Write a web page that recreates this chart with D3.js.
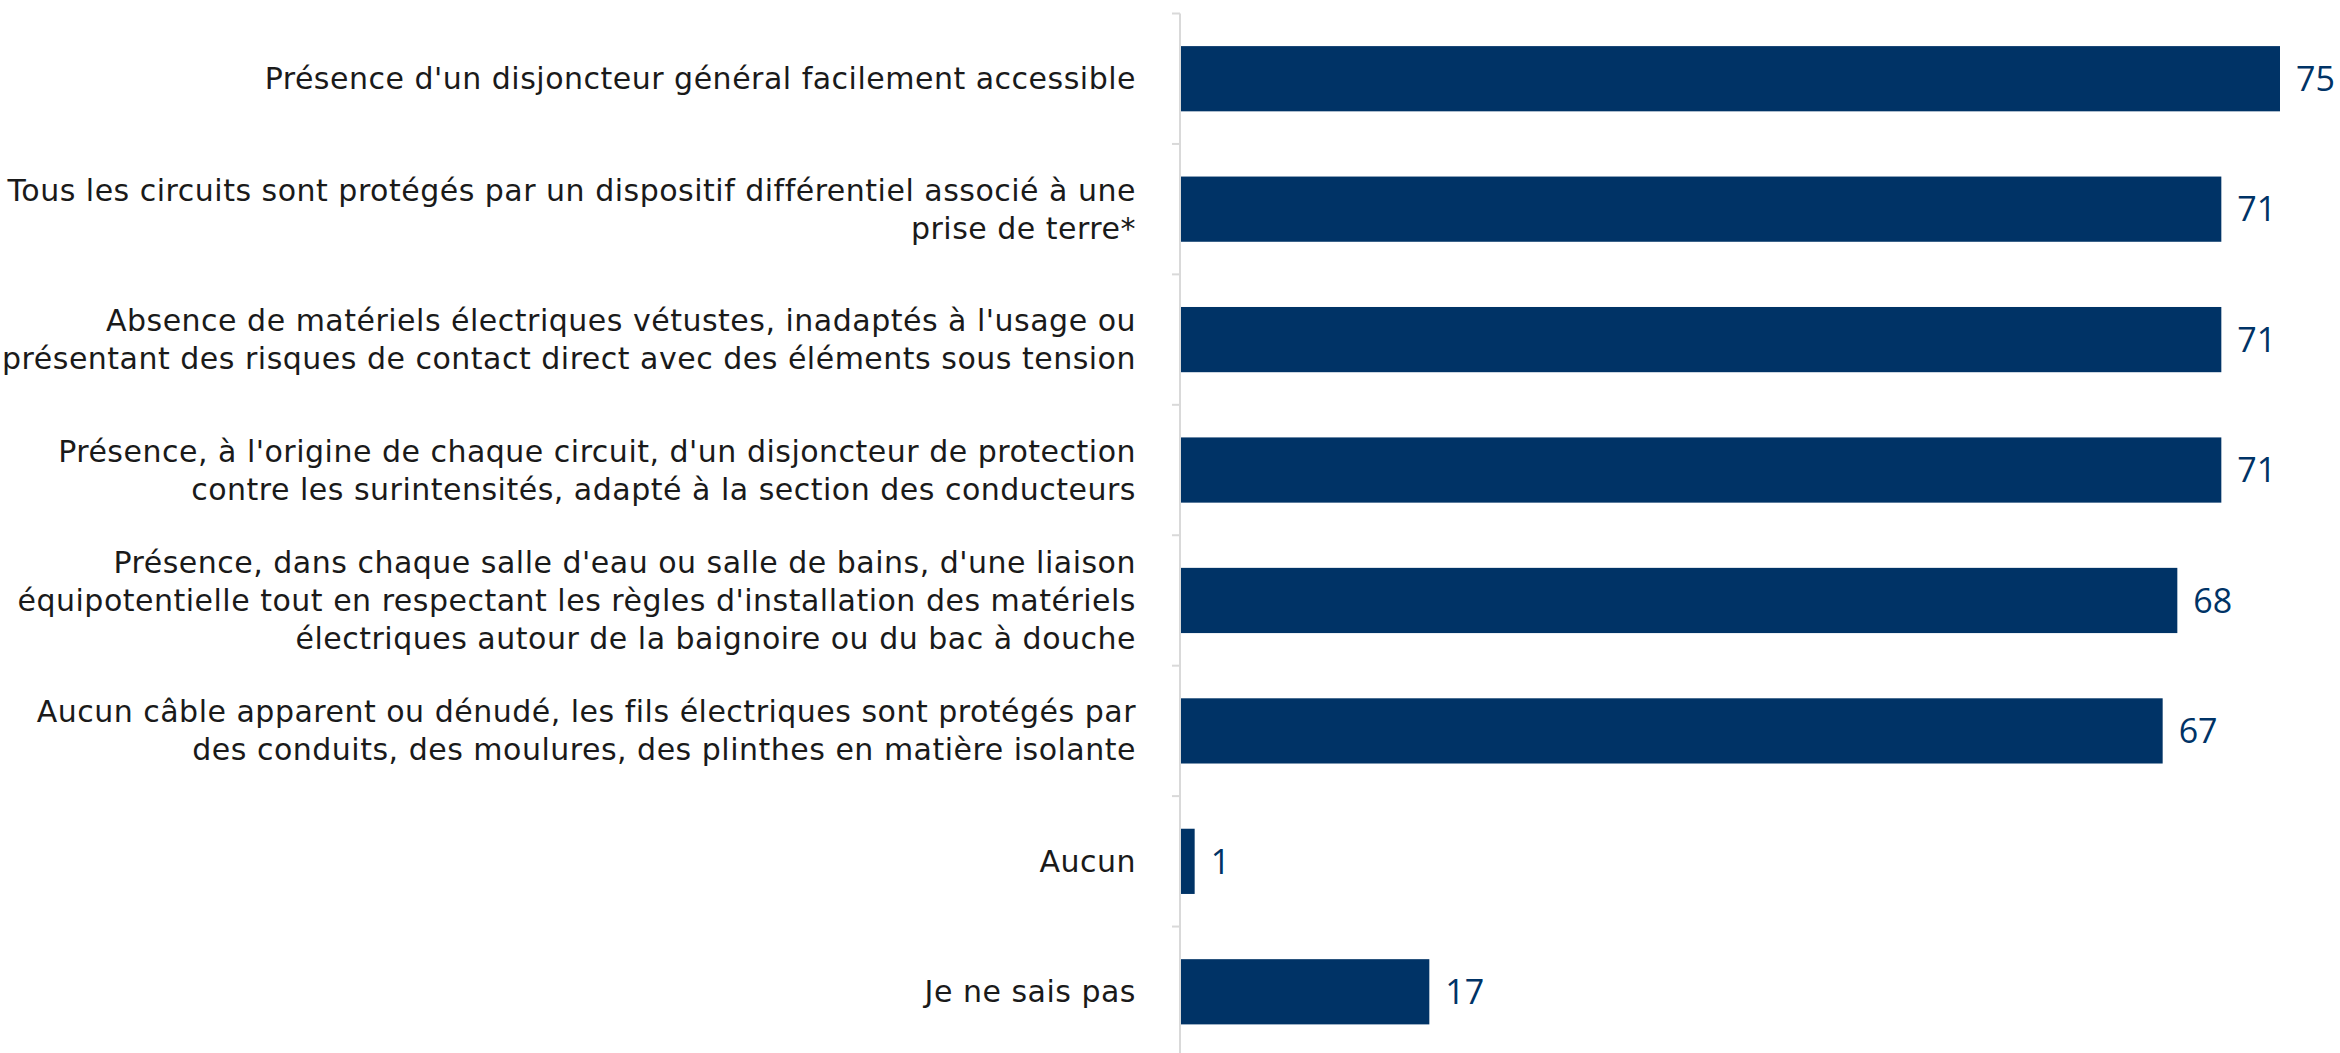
<!DOCTYPE html>
<html>
<head>
<meta charset="utf-8">
<script src="https://cdn.jsdelivr.net/npm/d3@7"></script>
<style>
    body { margin: 0; background: #fff; }
    svg { display: block; }
</style>
</head>
<body>
<script>
// categories, top to bottom ("\n" = line break as in the original)
let categories = [
    "Présence d'un disjoncteur général facilement accessible",
    "Tous les circuits sont protégés par un dispositif différentiel associé à une\nprise de terre*",
    "Absence de matériels électriques vétustes, inadaptés à l'usage ou\nprésentant des risques de contact direct avec des éléments sous tension",
    "Présence, à l'origine de chaque circuit, d'un disjoncteur de protection\ncontre les surintensités, adapté à la section des conducteurs",
    "Présence, dans chaque salle d'eau ou salle de bains, d'une liaison\néquipotentielle tout en respectant les règles d'installation des matériels\nélectriques autour de la baignoire ou du bac à douche",
    "Aucun câble apparent ou dénudé, les fils électriques sont protégés par\ndes conduits, des moulures, des plinthes en matière isolante",
    "Aucun",
    "Je ne sais pas"
];
let values = [75, 71, 71, 71, 68, 67, 1, 17];

let width = 2340, height = 1053;
let barColor = "#003366";
let labelFont = "'Century Gothic', 'DejaVu Sans', sans-serif";
let valueFont = "'Century Gothic', 'Open Sans', sans-serif";

let svg = d3.select("body").append("svg")
    .attr("width", width)
    .attr("height", height);

let x = d3.scaleLinear()
    .domain([0, 75])
    .range([1180, 2280]);

let y = d3.scaleBand()
    .domain(categories)
    .range([13.5, 1057])
    .paddingInner(0.5)
    .paddingOuter(0.25);

/////////////// axis //////////////////
let step = y.step();
let bounds = d3.range(categories.length + 1).map(i => 13.5 + i * step);

svg.append("line")
    .attr("x1", x(0)).attr("x2", x(0))
    .attr("y1", 13.5).attr("y2", height)
    .attr("stroke", "#d9d9d9")
    .attr("stroke-width", 2);

svg.append("g").selectAll("line")
    .data(bounds)
    .enter().append("line")
    .attr("x1", x(0) - 8).attr("x2", x(0))
    .attr("y1", d => d).attr("y2", d => d)
    .attr("stroke", "#d9d9d9")
    .attr("stroke-width", 2);

/////////////// bars //////////////////
svg.append("g").selectAll("rect")
    .data(values)
    .enter().append("rect")
    .attr("x", x(0) + 1)
    .attr("y", (d, i) => y(categories[i]))
    .attr("width", d => x(d) - x(0) - 1)
    .attr("height", y.bandwidth())
    .attr("fill", barColor);

// value labels
svg.append("g").selectAll("text")
    .data(values)
    .enter().append("text")
    .attr("x", d => x(d) + 16)
    .attr("y", (d, i) => y(categories[i]) + y.bandwidth() / 2)
    .attr("dy", "0.36em")
    .style("font-family", valueFont)
    .style("font-size", "34px")
    .attr("fill", barColor)
    .text(d => d);

/////////////// category labels //////////////////
let lineH = 38;
let labels = svg.append("g").selectAll("text")
    .data(categories)
    .enter().append("text")
    .attr("text-anchor", "end")
    .style("font-family", labelFont)
    .style("font-size", "30px")
    .style("letter-spacing", "0.5px")
    .attr("fill", "#1a1a1a");

labels.each(function(d) {
    let lines = d.split("\n");
    let cy = y(d) + y.bandwidth() / 2;
    let first = cy - (lines.length - 1) * lineH / 2;
    d3.select(this).selectAll("tspan")
        .data(lines)
        .enter().append("tspan")
        .attr("x", 1136)
        .attr("y", (l, i) => first + i * lineH)
        .attr("dy", "0.35em")
        .text(l => l);
});
</script>
</body>
</html>
